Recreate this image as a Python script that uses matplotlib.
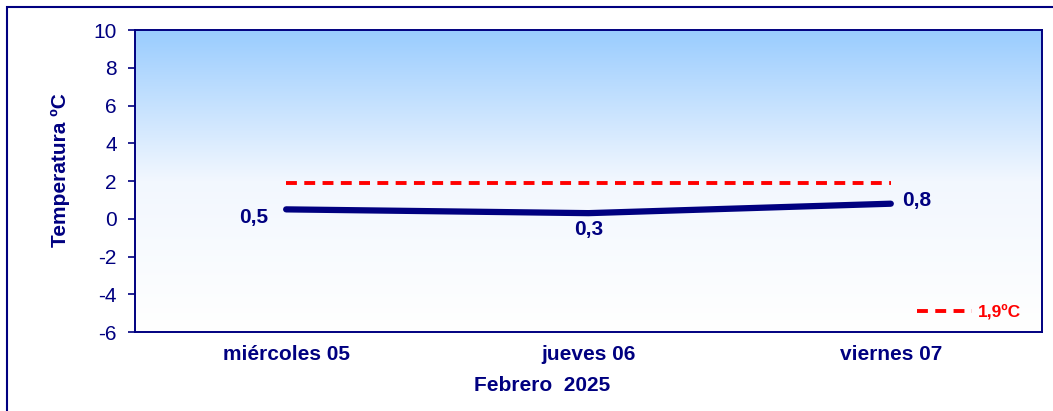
import numpy as np
import matplotlib.pyplot as plt
from matplotlib.patches import Rectangle
from matplotlib.colors import LinearSegmentedColormap

plt.rcParams['font.family'] = ['Liberation Sans', 'DejaVu Sans']
plt.rcParams['axes.unicode_minus'] = False

# data
days = ['miércoles 05', 'jueves 06', 'viernes 07']
temps = [0.5, 0.3, 0.8]
labels = ['0,5', '0,3', '0,8']
normal = 1.9
normal_label = '1,9ºC'

navy = '#000080'

fig = plt.figure(figsize=(10.53, 4.11), dpi=100)
ax = fig.add_axes([0.1282, 0.192, 0.8613, 0.735])

# frame around the whole chart (runs off the right and bottom edges)
fig.patches.append(Rectangle((0.0066, -0.05), 1.2, 1.033, transform=fig.transFigure,
                             fill=False, edgecolor=navy, linewidth=1.5))

# gradient background
grad = np.linspace(0, 1, 256).reshape(-1, 1)
cmap = LinearSegmentedColormap.from_list('bg', ['#ffffff', '#f2f7fe', '#99ccff'])
ax.imshow(grad, aspect='auto', cmap=cmap, origin='lower',
          extent=[-0.5, 2.5, -6, 10], zorder=0)

x = np.arange(len(days))
ax.plot(x, temps, color=navy, linewidth=4.5, solid_capstyle='round', zorder=3)
ax.plot(x, [normal] * len(x), color='#ff0000', linewidth=2.8, linestyle=(0, (2.8, 1.9)),
        zorder=2, label=normal_label)

# data labels
ax.annotate(labels[0], (x[0], temps[0]), xytext=(-13, -6), textcoords='offset points',
            ha='right', va='center', fontsize=15, fontweight='bold', color=navy)
ax.annotate(labels[1], (x[1], temps[1]), xytext=(0, -5), textcoords='offset points',
            ha='center', va='top', fontsize=15, fontweight='bold', color=navy)
ax.annotate(labels[2], (x[2], temps[2]), xytext=(8, 2), textcoords='offset points',
            ha='left', va='center', fontsize=15, fontweight='bold', color=navy)

ax.set_xlim(-0.5, 2.5)
ax.set_ylim(-6, 10)
ax.set_yticks(range(-6, 11, 2))
ax.set_xticks(x)
ax.set_xticklabels(days, fontsize=15, fontweight='bold', color=navy)
ax.tick_params(axis='y', labelsize=15, colors=navy, length=5, width=1.2, direction='out', pad=8)
ax.tick_params(axis='x', length=0, pad=9)
for s in ax.spines.values():
    s.set_color(navy)
    s.set_linewidth(1.4)

ax.set_ylabel('Temperatura ºC', fontsize=15, fontweight='bold', color=navy)
ax.yaxis.set_label_coords(-0.0717, 0.536)
ax.set_xlabel('Febrero  2025', fontsize=15, fontweight='bold', color=navy)
ax.xaxis.set_label_coords(0.449, -0.146)

leg = ax.legend(loc='lower right', frameon=False, fontsize=12.5, handlelength=3.2,
                handletextpad=0.3, borderaxespad=0.3, bbox_to_anchor=(0.99, 0.0))
for t in leg.get_texts():
    t.set_color('#ff0000')
    t.set_fontweight('bold')

fig.savefig('out.png', dpi=100)
